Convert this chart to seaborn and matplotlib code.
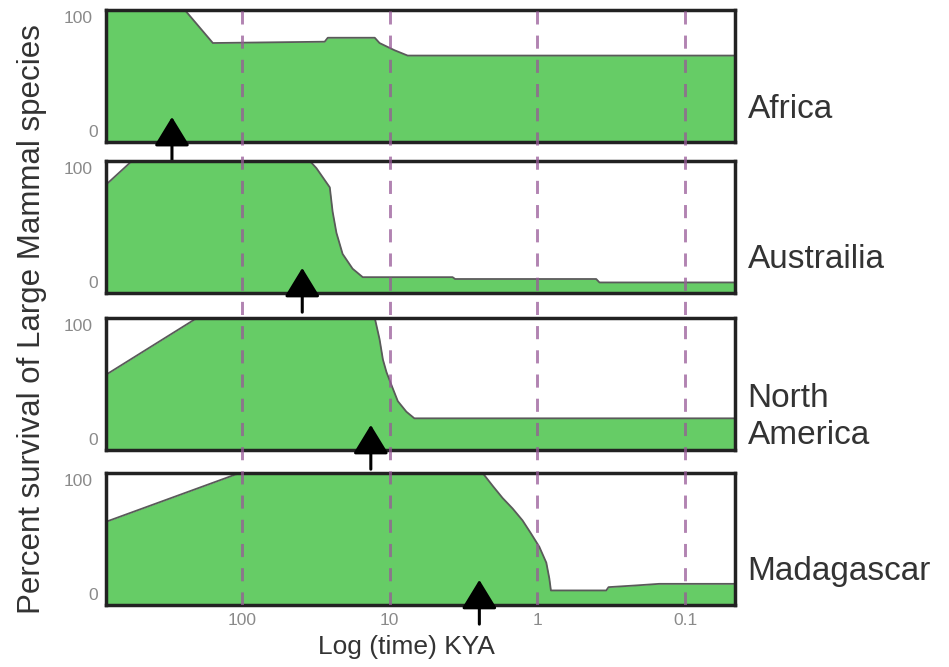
import matplotlib
matplotlib.use("Agg")
import matplotlib.pyplot as plt
import matplotlib.transforms as mtransforms
from matplotlib.ticker import NullLocator, NullFormatter
import seaborn as sns

# Zeitachse in KYA (tausend Jahre), Werte in % ueberlebender Arten
regions = ["Africa", "Austrailia", "North\nAmerica", "Madagascar"]

africa_kya = [830, 243, 157, 27.5, 26.2, 12.6, 11.7, 10.3, 9.25, 7.55, 0.046]
africa_pct = [100, 100, 75, 76, 79, 79, 75, 72, 69.5, 65.5, 65.5]

aus_kya = [830, 554, 34.7, 31.3, 25.4, 24.3, 22.9, 20.8, 17.8, 15.2, 3.75, 3.6, 0.40, 0.38, 0.046]
aus_pct = [82, 100, 100, 94.6, 80, 61.6, 45.6, 29.6, 18.4, 12, 12, 10.6, 10.6, 8, 8]

na_kya = [830, 201, 12.6, 11.7, 11.1, 10.5, 9.7, 8.8, 7.7, 6.8, 0.046]
na_pct = [57, 100, 100, 84, 68.5, 59, 49, 37, 29, 24, 24]

mad_kya = [830, 103, 2.35, 2.0, 1.72, 1.47, 1.26, 1.11, 0.97, 0.87, 0.83, 0.81,
           0.342, 0.33, 0.215, 0.15, 0.046]
mad_pct = [63, 100, 100, 90, 81, 73, 64, 54.5, 44, 32, 20, 11, 11, 13.5, 14.8, 16, 16]

# Ankunft des Menschen (Pfeile)
arrival_kya = [297, 39, 13.4, 2.47]

decades = [100, 10, 1, 0.1]
decade_labels = ["100", "10", "1", "0.1"]

series_kya = [africa_kya, aus_kya, na_kya, mad_kya]
series_pct = [africa_pct, aus_pct, na_pct, mad_pct]

sns.set_theme(style="white")
plt.rcParams["font.family"] = ["Liberation Sans", "DejaVu Sans"]

fig = plt.figure(figsize=(9.49, 6.67), dpi=100)

LEFT, WIDTH, HEIGHT = 0.1117, 0.6628, 0.198
bottoms = [0.787, 0.5607, 0.3253, 0.093]
XLIM = (830, 0.046)
GRUEN = "#66CC66"
TEXT = "#333333"

axes = []
for i, (name, kya, pct, arr) in enumerate(zip(regions, series_kya, series_pct, arrival_kya)):
    ax = fig.add_axes([LEFT, bottoms[i], WIDTH, HEIGHT])
    ax.set_xscale("log")
    ax.set_xlim(*XLIM)
    ax.set_ylim(0, 100)

    ax.fill_between(kya, pct, 0, color=GRUEN, lw=0, zorder=1)
    sns.lineplot(x=kya, y=pct, ax=ax, color="#5a5a5a", lw=1.3, sort=False,
                 estimator=None, zorder=2)

    # Pfeil: Spitze im Panel, Schaft nach unten raus
    ax.annotate("", xy=(arr, 0.19), xycoords=("data", "axes fraction"),
                xytext=(arr, -0.145), textcoords=("data", "axes fraction"),
                arrowprops=dict(arrowstyle="-|>,head_length=0.9,head_width=0.55",
                                mutation_scale=20, color="black", lw=2.2,
                                shrinkA=0, shrinkB=0),
                annotation_clip=False, zorder=5)

    ax.text(1.02, 0.25, name, transform=ax.transAxes, fontsize=24, va="center",
            ha="left", color=TEXT, linespacing=1.25)

    for s in ax.spines.values():
        s.set_visible(True)
        s.set_linewidth(2.5)
        s.set_color("#222222")

    ax.xaxis.set_minor_locator(NullLocator())
    ax.xaxis.set_minor_formatter(NullFormatter())
    if i == 3:
        ax.set_xticks(decades, labels=decade_labels)
    else:
        ax.set_xticks([])
    ax.tick_params(axis="x", length=0, pad=6, labelsize=12.5, labelcolor="#8a8a8a")

    ax.set_yticks([0, 100], labels=["0", "100"])
    ax.tick_params(axis="y", length=0, pad=6, labelsize=12.5, labelcolor="#8a8a8a")
    for lab, (dx, dy) in zip(ax.get_yticklabels(), [(0, 0.11), (-0.05, -0.07)]):
        off = mtransforms.ScaledTranslation(dx, dy, fig.dpi_scale_trans)
        lab.set_transform(lab.get_transform() + off)

    ax.set_xlabel("")
    ax.set_ylabel("")
    axes.append(ax)

# gestrichelte Dekaden-Linien ueber alle Panels
ov = fig.add_axes([LEFT, bottoms[3], WIDTH, bottoms[0] + HEIGHT - bottoms[3]])
ov.set_xscale("log")
ov.set_xlim(*XLIM)
ov.set_ylim(0, 1)
ov.axis("off")
ov.patch.set_visible(False)
for d in decades:
    ov.axvline(d, color="#985A98", alpha=0.75, lw=2.1, dashes=(4.5, 3.8))

fig.text(0.034, 0.522, "Percent survival of Large Mammal species", rotation=90,
         va="center", ha="center", fontsize=22.5, color=TEXT)
fig.text(0.428, 0.03, "Log (time) KYA", ha="center", va="center", fontsize=19,
         color=TEXT)

fig.savefig("out.png", dpi=100)
